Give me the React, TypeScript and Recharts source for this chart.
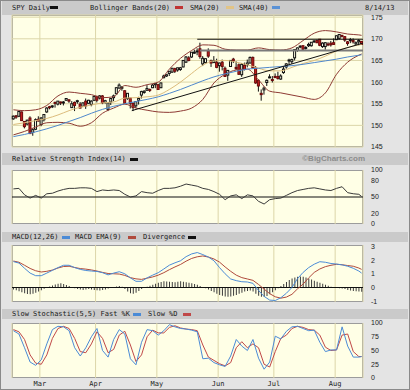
import React from "react";
import { ComposedChart, Bar, Line, XAxis, YAxis, CartesianGrid, ReferenceLine } from "recharts";

// trading-day index 0 = Feb 14 2013, 125 = Aug 14 2013
const monthTicks = [9.5, 29.5, 51.5, 73.5, 93.5, 115.5];
const monthNames = ["Mar", "Apr", "May", "Jun", "Jul", "Aug"];

const priceTicks = [145, 150, 155, 160, 165, 170, 175];
const rsiTicks = [0, 20, 50, 80, 100];
const macdTicks = [-1, 0, 1, 2, 3];
const stochTicks = [0, 25, 50, 75, 100];

const opens = [
  151.5, 152.2, 152.1, 153.1, 150.9, 150.3, 151.7, 148.4, 149.1, 151.4,
  150.2, 151.3, 153.1, 154.3, 154.3, 155.3, 154.9, 155.4, 155.2, 155.8,
  155.9, 154.1, 155.3, 155.5, 154.9, 154.4, 155.6, 155.1, 154.8, 155.8,
  156.7, 156.3, 156.8, 155.3, 153.7, 155.4, 156.4, 157.3, 158.6, 158.7,
  158.0, 156.2, 156.3, 155.1, 154.5, 155.8, 157.0, 157.6, 158.1, 158.3,
  158.7, 159.4, 159.4, 158.7, 161.0, 161.4, 162.0, 162.3, 163.1, 162.8,
  162.9, 163.5, 164.6, 165.6, 165.8, 166.7, 167.0, 167.7, 164.2, 164.5,
  167.1, 164.9, 164.5, 164.6, 163.8, 164.6, 163.2, 161.6, 163.6, 165.3,
  163.4, 164.0, 161.7, 163.9, 164.0, 164.4, 165.7, 163.3, 160.4, 157.4,
  158.2, 159.9, 161.1, 160.6, 161.3, 161.3, 160.7, 162.2, 163.5, 165.0,
  164.7, 165.6, 167.3, 168.1, 168.4, 167.9, 168.4, 168.4, 169.5, 169.6,
  169.9, 168.2, 168.2, 168.8, 169.0, 169.1, 169.8, 170.1, 170.8, 170.5,
  169.3, 169.6, 169.6, 168.8, 169.3, 169.4,
];
const highs = [
  152.3, 152.4, 153.3, 153.2, 151.0, 151.3, 152.1, 149.3, 151.6, 152.1,
  151.9, 152.6, 154.2, 154.5, 154.7, 155.5, 155.6, 155.5, 155.6, 156.3,
  156.0, 155.6, 155.5, 155.9, 155.4, 155.3, 156.2, 155.9, 155.8, 156.8,
  156.8, 157.0, 157.0, 155.9, 155.3, 156.2, 157.1, 158.8, 159.7, 159.1,
  158.1, 157.4, 156.3, 155.3, 155.6, 156.6, 158.0, 158.1, 159.3, 158.5,
  159.6, 159.7, 159.6, 159.9, 161.7, 161.8, 162.5, 163.2, 163.3, 163.3,
  163.5, 165.1, 166.0, 166.0, 166.9, 167.5, 167.8, 169.1, 166.0, 165.5,
  167.8, 165.2, 166.0, 165.4, 164.5, 165.2, 163.6, 162.8, 165.1, 165.6,
  164.8, 164.3, 164.4, 164.5, 165.2, 165.9, 165.9, 163.7, 160.6, 158.3,
  159.0, 160.6, 161.8, 161.4, 162.0, 162.4, 161.8, 163.6, 164.4, 165.4,
  165.4, 167.6, 168.0, 168.5, 168.5, 168.3, 169.1, 169.2, 169.7, 169.8,
  169.9, 169.2, 169.2, 169.2, 169.5, 170.1, 170.8, 171.0, 170.9, 170.6,
  169.5, 170.2, 170.1, 169.4, 169.9, 169.5,
];
const lows = [
  151.3, 151.5, 151.9, 151.0, 149.3, 150.0, 148.0, 147.6, 148.9, 150.9,
  149.8, 150.9, 152.9, 153.7, 154.0, 154.1, 154.6, 154.7, 154.6, 155.7,
  155.2, 154.0, 153.3, 155.0, 153.9, 154.2, 153.8, 154.9, 154.4, 155.6,
  155.3, 156.0, 154.9, 155.0, 153.3, 154.7, 155.6, 157.2, 158.5, 158.0,
  155.1, 155.9, 153.9, 153.3, 154.0, 154.8, 156.2, 157.3, 158.0, 157.7,
  158.6, 158.6, 158.2, 158.6, 160.9, 161.2, 161.4, 162.1, 162.1, 162.4,
  162.6, 163.4, 164.4, 164.8, 165.6, 166.5, 166.2, 165.4, 163.7, 164.3,
  165.6, 163.5, 164.4, 163.2, 162.4, 162.7, 161.2, 160.3, 163.5, 164.4,
  162.8, 161.7, 161.2, 162.7, 163.4, 164.3, 163.3, 159.6, 157.8, 155.7,
  157.1, 159.1, 160.9, 159.9, 160.9, 160.6, 160.5, 161.9, 163.1, 164.0,
  164.2, 165.0, 167.0, 167.8, 167.2, 167.5, 168.1, 168.2, 169.1, 169.0,
  168.3, 167.9, 167.5, 168.3, 168.2, 168.6, 169.7, 169.8, 170.3, 169.3,
  168.4, 169.0, 168.9, 168.6, 168.5, 168.6,
];
const closes = [
  152.1, 151.9, 153.2, 151.1, 149.7, 151.2, 148.1, 149.0, 151.3, 151.0,
  151.7, 152.5, 154.0, 154.2, 154.5, 155.1, 155.6, 155.3, 155.4, 156.2,
  155.6, 155.0, 154.6, 155.7, 154.0, 155.2, 154.5, 155.8, 155.6, 156.7,
  155.8, 156.8, 155.2, 155.7, 155.2, 156.2, 156.8, 158.7, 159.3, 158.8,
  155.1, 157.4, 155.1, 154.1, 155.5, 156.2, 157.8, 157.9, 158.5, 158.2,
  159.3, 159.7, 158.3, 159.8, 161.4, 161.7, 162.5, 163.2, 162.5, 163.3,
  163.3, 165.0, 165.8, 165.0, 166.9, 166.9, 167.2, 165.9, 165.5, 165.4,
  166.0, 164.4, 165.0, 163.4, 164.4, 163.6, 161.3, 162.7, 165.0, 164.9,
  163.1, 161.8, 164.1, 162.9, 164.4, 165.7, 163.3, 159.8, 159.1, 157.1,
  158.6, 160.4, 161.2, 160.4, 161.1, 160.8, 161.4, 163.0, 164.2, 165.1,
  165.2, 167.5, 167.9, 168.3, 167.6, 168.0, 168.7, 169.2, 169.5, 169.1,
  168.5, 169.0, 169.1, 168.6, 168.6, 168.7, 170.7, 171.0, 170.7, 169.7,
  168.9, 169.8, 169.3, 169.1, 169.6, 168.7,
];

// MACD divergence histogram, one per day
const divergence = [
  -0.15, -0.2, -0.28, -0.35, -0.42, -0.48, -0.5, -0.45, -0.38, -0.3,
  -0.2, -0.1, 0.0, 0.08, 0.15, 0.22, 0.28, 0.3, 0.25, 0.18,
  0.1, 0.02, -0.05, -0.12, -0.15, -0.18, -0.15, -0.12, -0.15, -0.18,
  -0.2, -0.22, -0.18, -0.15, -0.08, -0.02, 0.03, 0.08, 0.1, 0.05,
  -0.12, -0.3, -0.42, -0.45, -0.38, -0.25, -0.12, -0.02, 0.05, 0.12,
  0.2, 0.28, 0.35, 0.4, 0.45, 0.44, 0.42, 0.4, 0.38, 0.42,
  0.45, 0.42, 0.38, 0.35, 0.3, 0.25, 0.2, 0.1, 0.02, -0.05,
  -0.15, -0.25, -0.35, -0.45, -0.55, -0.6, -0.65, -0.68, -0.65, -0.6,
  -0.55, -0.45, -0.38, -0.3, -0.25, -0.22, -0.3, -0.45, -0.6, -0.68,
  -0.7, -0.62, -0.5, -0.35, -0.2, -0.05, 0.1, 0.25, 0.4, 0.55,
  0.65, 0.72, 0.78, 0.8, 0.78, 0.72, 0.65, 0.58, 0.5, 0.42,
  0.35, 0.28, 0.2, 0.12, 0.05, 0.0, -0.03, -0.05, -0.08, -0.12,
  -0.18, -0.22, -0.25, -0.28, -0.3, -0.32,
];

// overlays read every 4th day
const overlayDays = [0, 4, 8, 12, 16, 20, 24, 28, 32, 36, 40, 44, 48, 52, 56, 60, 64, 68, 72, 76, 80, 84, 88, 92, 96, 100, 104, 108, 112, 116, 120, 124, 125];
const bbUpper = [153.6, 153.4, 153.6, 154.6, 156.8, 157.7, 157.4, 157.1, 156.4, 156.6, 159.2, 158.8, 159.4, 160.0, 163.0, 165.5, 167.3, 168.6, 168.5, 167.6, 167.4, 167.4, 167.9, 167.5, 167.4, 167.9, 169.6, 171.3, 171.9, 171.6, 171.1, 170.9, 170.8];
const bbLower = [147.8, 148.6, 149.6, 150.6, 150.7, 150.5, 149.8, 150.6, 152.8, 154.0, 154.9, 154.0, 153.5, 153.1, 153.0, 153.3, 154.0, 156.0, 159.8, 161.8, 162.8, 163.0, 160.5, 157.9, 157.5, 157.0, 156.5, 156.0, 157.5, 161.8, 164.6, 166.2, 166.5];
const sma20 = [150.2, 150.6, 151.1, 151.6, 152.4, 153.4, 154.2, 154.7, 155.2, 155.4, 156.3, 156.4, 156.6, 157.0, 158.3, 160.0, 162.0, 163.9, 164.9, 165.0, 164.6, 164.0, 163.2, 162.6, 162.6, 163.4, 164.3, 165.0, 166.0, 167.2, 168.0, 168.6, 168.7];
const sma40 = [147.4, 147.9, 148.5, 149.2, 150.0, 150.9, 151.8, 152.8, 153.7, 154.4, 155.0, 155.5, 156.0, 156.6, 157.4, 158.3, 159.3, 160.3, 161.2, 161.9, 162.5, 163.0, 163.2, 163.4, 163.6, 163.8, 164.1, 164.5, 164.9, 165.3, 165.8, 166.2, 166.3];

// oscillators read every 2nd day
const oscDays = [
  0, 2, 4, 6, 8, 10, 12, 14, 16, 18, 20, 22, 24, 26, 28, 30, 32, 34, 36, 38,
  40, 42, 44, 46, 48, 50, 52, 54, 56, 58, 60, 62, 64, 66, 68, 70, 72, 74, 76, 78,
  80, 82, 84, 86, 88, 90, 92, 94, 96, 98, 100, 102, 104, 106, 108, 110, 112, 114, 116, 118,
  120, 122, 124, 125,
];
const rsi = [
  65, 66, 54, 48, 53, 48, 56, 57, 61, 64, 66, 66, 67, 67, 66, 60, 63, 62, 63, 62,
  55, 50, 52, 60, 58, 57, 62, 66, 66, 67, 70, 74, 72, 70, 66, 64, 60, 55, 45, 52,
  54, 47, 54, 52, 42, 37, 45, 47, 48, 53, 58, 62, 64, 66, 67, 65, 63, 62, 66, 69,
  58, 56, 55, 51,
];
const macd = [
  1.89, 1.78, 1.4, 1.05, 0.86, 0.86, 1.05, 1.25, 1.45, 1.62, 1.62, 1.45, 1.32, 1.24, 1.2, 1.17, 1.08, 0.92, 1.05, 1.15,
  1.0, 0.7, 0.45, 0.45, 0.7, 0.9, 1.08, 1.35, 1.63, 1.8, 1.95, 2.25, 2.45, 2.55, 2.4, 2.22, 1.95, 1.45, 1.0, 0.62,
  0.5, 0.42, 0.4, 0.3, -0.22, -0.65, -0.92, -0.95, -0.75, -0.42, 0.0, 0.65, 1.1, 1.45, 1.7, 1.88, 1.84, 1.75, 1.71, 1.65,
  1.55, 1.4, 1.2, 1.05,
];
const macdSignal = [
  1.93, 1.84, 1.62, 1.39, 1.22, 1.13, 1.18, 1.27, 1.42, 1.53, 1.55, 1.46, 1.38, 1.34, 1.28, 1.2, 1.1, 1.02, 1.0, 0.98,
  0.88, 0.72, 0.63, 0.59, 0.68, 0.77, 0.9, 1.08, 1.3, 1.5, 1.68, 1.92, 2.12, 2.24, 2.3, 2.22, 2.08, 1.85, 1.5, 1.18,
  0.9, 0.72, 0.62, 0.52, 0.22, -0.12, -0.45, -0.68, -0.78, -0.7, -0.5, -0.1, 0.25, 0.7, 1.1, 1.35, 1.52, 1.62, 1.69, 1.66,
  1.6, 1.55, 1.42, 1.32,
];
const stochK = [
  86, 80, 55, 29, 23, 33, 62, 88, 94, 93, 86, 55, 40, 55, 75, 90, 50, 38, 70, 88,
  80, 35, 24, 65, 88, 86, 78, 86, 97, 93, 90, 89, 87, 84, 35, 36, 28, 24, 21, 40,
  70, 58, 50, 70, 36, 16, 29, 76, 71, 85, 93, 94, 90, 86, 87, 65, 48, 51, 51, 93,
  58, 38, 38, 39,
];
const stochD = [
  88, 84, 70, 42, 27, 25, 42, 72, 90, 94, 90, 72, 48, 46, 62, 84, 72, 46, 52, 78,
  85, 60, 30, 42, 75, 87, 82, 82, 92, 95, 91, 89, 88, 86, 60, 38, 32, 26, 22, 28,
  55, 66, 55, 62, 55, 25, 20, 48, 72, 78, 90, 94, 92, 88, 87, 78, 56, 50, 51, 78,
  80, 48, 39, 39,
];

const days = closes.map((c, i) => ({
  i,
  range: [lows[i], highs[i]],
  o: opens[i],
  h: highs[i],
  l: lows[i],
  c,
  div: divergence[i],
}));
const overlayRows = overlayDays.map((d, k) => ({ i: d, up: bbUpper[k], lo: bbLower[k], s20: sma20[k], s40: sma40[k] }));
const oscRows = oscDays.map((d, k) => ({ i: d, rsi: rsi[k], macd: macd[k], sig: macdSignal[k], k: stochK[k], d: stochD[k] }));

const BG = "#e4e4e4";
const STRIP = "#cacaca";
const PLOT = "#ffffe6";
const GRID = "#dcd6a8";
const MONO = "'DejaVu Sans Mono', monospace";
const tickStyle = { fontSize: 7, fill: "#222", fontFamily: "'Liberation Sans', Arial, sans-serif" };
// extra room above/below each plot so edge tick labels are not clipped
const PAD = 6;
const margin = { top: PAD, right: 7, bottom: PAD, left: 12 };

const Candle = (props: any) => {
  const { x, y, width, height, payload } = props;
  if (!payload || x == null) return null;
  const top = Math.min(y, y + height);
  const bot = Math.max(y, y + height);
  const span = payload.h - payload.l || 1;
  const py = (p: number) => top + ((payload.h - p) / span) * (bot - top);
  const cx = x + width / 2;
  const up = payload.c >= payload.o;
  const bTop = py(Math.max(payload.o, payload.c));
  const bBot = py(Math.min(payload.o, payload.c));
  return (
    <g>
      <line x1={cx} x2={cx} y1={top} y2={bot} stroke="#111" strokeWidth={1} />
      <rect
        x={cx - 1}
        y={bTop}
        width={2}
        height={Math.max(bBot - bTop, 1)}
        fill={up ? PLOT : "#c62020"}
        stroke={up ? "#111" : "#6a0a0a"}
        strokeWidth={1}
      />
    </g>
  );
};

const Txt = ({ x, cy, children, style }: any) => (
  <span
    style={{
      position: "absolute",
      left: x,
      top: cy - 4,
      fontFamily: MONO,
      fontSize: 7,
      lineHeight: "8px",
      whiteSpace: "pre",
      color: "#1a1a1a",
      ...style,
    }}
  >
    {children}
  </span>
);

const Dash = ({ x, cy, color }: any) => (
  <span style={{ position: "absolute", left: x, top: cy - 1.5, width: 8, height: 3, background: color }} />
);

const Strip = ({ top, height }: any) => (
  <div style={{ position: "absolute", left: 2, width: 406, top, height, background: STRIP }} />
);

const PlotBox = ({ top, height }: any) => (
  <div
    style={{
      position: "absolute",
      left: 12,
      top,
      width: 351,
      height,
      background: PLOT,
      border: "1px solid #9c9c9c",
      boxSizing: "border-box",
    }}
  />
);

// plotTop is where the plot area begins; the svg starts PAD above it
const Panel = ({ plotTop, children }: any) => (
  <div style={{ position: "absolute", left: 0, top: plotTop - PAD }}>{children}</div>
);

const xAxisHidden = <XAxis dataKey="i" type="number" domain={[-0.5, 125.5]} ticks={monthTicks} hide />;

export default function App() {
  return (
    <div style={{ position: "relative", width: 410, height: 390, background: BG, overflow: "hidden" }}>
      <style>{"body{margin:0}"}</style>

      {/* headers */}
      <Strip top={0} height={15} />
      <Txt x={12} cy={7.5}>SPY Daily</Txt>
      <Dash x={50} cy={7.5} color="#111" />
      <Txt x={90} cy={7.5}>Bollinger Bands(20)</Txt>
      <Dash x={175} cy={7.5} color="#c03434" />
      <Txt x={190} cy={7.5}>SMA(20)</Txt>
      <Dash x={226} cy={7.5} color="#e2c486" />
      <Txt x={239} cy={7.5}>SMA(40)</Txt>
      <Dash x={272} cy={7.5} color="#5a92d6" />
      <Txt x={365} cy={7.5}>8/14/13</Txt>

      <Strip top={153} height={12} />
      <Txt x={12} cy={159}>Relative Strength Index(14)</Txt>
      <Dash x={130} cy={159} color="#111" />
      <span
        style={{
          position: "absolute",
          right: 45,
          top: 154,
          fontFamily: "'Liberation Sans', Arial, sans-serif",
          fontWeight: 700,
          fontSize: 8,
          lineHeight: "10px",
          color: "#8c8c8c",
        }}
      >
        ©BigCharts.com
      </span>

      <Strip top={232} height={10} />
      <Txt x={12} cy={237}>MACD(12,26)</Txt>
      <Dash x={62} cy={237} color="#4b8bd6" />
      <Txt x={75} cy={237}>MACD EMA(9)</Txt>
      <Dash x={128} cy={237} color="#b04a3c" />
      <Txt x={143} cy={237}>Divergence</Txt>
      <Dash x={188} cy={237} color="#111" />

      <Strip top={309} height={10} />
      <Txt x={12} cy={314}>Slow Stochastic(5,5) Fast %K</Txt>
      <Dash x={133} cy={314} color="#4b8bd6" />
      <Txt x={148} cy={314}>Slow %D</Txt>
      <Dash x={183} cy={314} color="#c04848" />

      {/* price panel */}
      <PlotBox top={15} height={132} />
      <Panel plotTop={15}>
        <ComposedChart width={410} height={132 + 2 * PAD} data={days} margin={margin}>
          <CartesianGrid stroke={GRID} />
          {xAxisHidden}
          <YAxis orientation="right" domain={[145, 175.5]} ticks={priceTicks} width={40} tickLine={false} axisLine={false} tick={tickStyle} interval={0} allowDataOverflow />
          <Line data={overlayRows} dataKey="up" type="monotone" stroke="#8e3a34" strokeWidth={1} dot={false} isAnimationActive={false} />
          <Line data={overlayRows} dataKey="lo" type="monotone" stroke="#8e3a34" strokeWidth={1} dot={false} isAnimationActive={false} />
          <Line data={overlayRows} dataKey="s20" type="monotone" stroke="#dcbc7c" strokeWidth={1} dot={false} isAnimationActive={false} />
          <Line data={overlayRows} dataKey="s40" type="monotone" stroke="#4f88cc" strokeWidth={1} dot={false} isAnimationActive={false} />
          <ReferenceLine segment={[{ x: 67, y: 167.3 }, { x: 125.5, y: 167.3 }]} stroke="#7a7a7a" strokeWidth={2} />
          <ReferenceLine segment={[{ x: 66, y: 169.9 }, { x: 125.5, y: 169.9 }]} stroke="#111" strokeWidth={1} />
          <ReferenceLine segment={[{ x: 42.5, y: 153.4 }, { x: 125.5, y: 169.0 }]} stroke="#111" strokeWidth={1} />
          <Bar dataKey="range" barSize={3} shape={(p: any) => <Candle {...p} />} isAnimationActive={false} />
        </ComposedChart>
      </Panel>

      {/* RSI */}
      <PlotBox top={170} height={54} />
      <Panel plotTop={170}>
        <ComposedChart width={410} height={54 + 2 * PAD} data={oscRows} margin={margin}>
          <CartesianGrid stroke={GRID} horizontal={false} />
          {xAxisHidden}
          <YAxis orientation="right" domain={[0, 100]} ticks={rsiTicks} width={40} tickLine={false} axisLine={false} tick={tickStyle} interval={0} allowDataOverflow />
          <ReferenceLine y={50} stroke="#111" strokeWidth={1.2} />
          <Line dataKey="rsi" type="linear" stroke="#3a3a3a" strokeWidth={1} dot={false} isAnimationActive={false} />
        </ComposedChart>
      </Panel>

      {/* MACD */}
      <PlotBox top={245} height={57} />
      <Panel plotTop={245}>
        <ComposedChart width={410} height={57 + 2 * PAD} data={days} margin={margin}>
          <CartesianGrid stroke={GRID} horizontal={false} />
          {xAxisHidden}
          <YAxis orientation="right" domain={[-1.06, 3.1]} ticks={macdTicks} width={40} tickLine={false} axisLine={false} tick={tickStyle} interval={0} allowDataOverflow />
          <Bar dataKey="div" barSize={1} fill="#3c3c3c" isAnimationActive={false} />
          <ReferenceLine y={0} stroke="#111" strokeWidth={1.2} />
          <Line data={oscRows} dataKey="sig" type="linear" stroke="#b04a3c" strokeWidth={1} dot={false} isAnimationActive={false} />
          <Line data={oscRows} dataKey="macd" type="linear" stroke="#4b8bd6" strokeWidth={1} dot={false} isAnimationActive={false} />
        </ComposedChart>
      </Panel>

      {/* Stochastic */}
      <PlotBox top={323} height={55} />
      <Panel plotTop={323}>
        <ComposedChart width={410} height={PAD + 55 + 14} data={oscRows} margin={{ ...margin, bottom: 0 }}>
          <CartesianGrid stroke={GRID} horizontal={false} />
          <XAxis
            dataKey="i"
            type="number"
            domain={[-0.5, 125.5]}
            ticks={monthTicks}
            interval={0}
            height={14}
            axisLine={false}
            tickLine={false}
            tickSize={2}
            tickMargin={1}
            tick={{ fontSize: 7, fill: "#222", fontFamily: MONO }}
            tickFormatter={(v: number) => monthNames[monthTicks.indexOf(v)]}
          />
          <YAxis orientation="right" domain={[0, 100]} ticks={stochTicks} width={40} tickLine={false} axisLine={false} tick={tickStyle} interval={0} allowDataOverflow />
          <Line dataKey="d" type="linear" stroke="#c04848" strokeWidth={1} dot={false} isAnimationActive={false} />
          <Line dataKey="k" type="linear" stroke="#4b8bd6" strokeWidth={1} dot={false} isAnimationActive={false} />
        </ComposedChart>
      </Panel>

      <div style={{ position: "absolute", inset: 0, border: "1px solid #8a8a8a", pointerEvents: "none" }} />
    </div>
  );
}
